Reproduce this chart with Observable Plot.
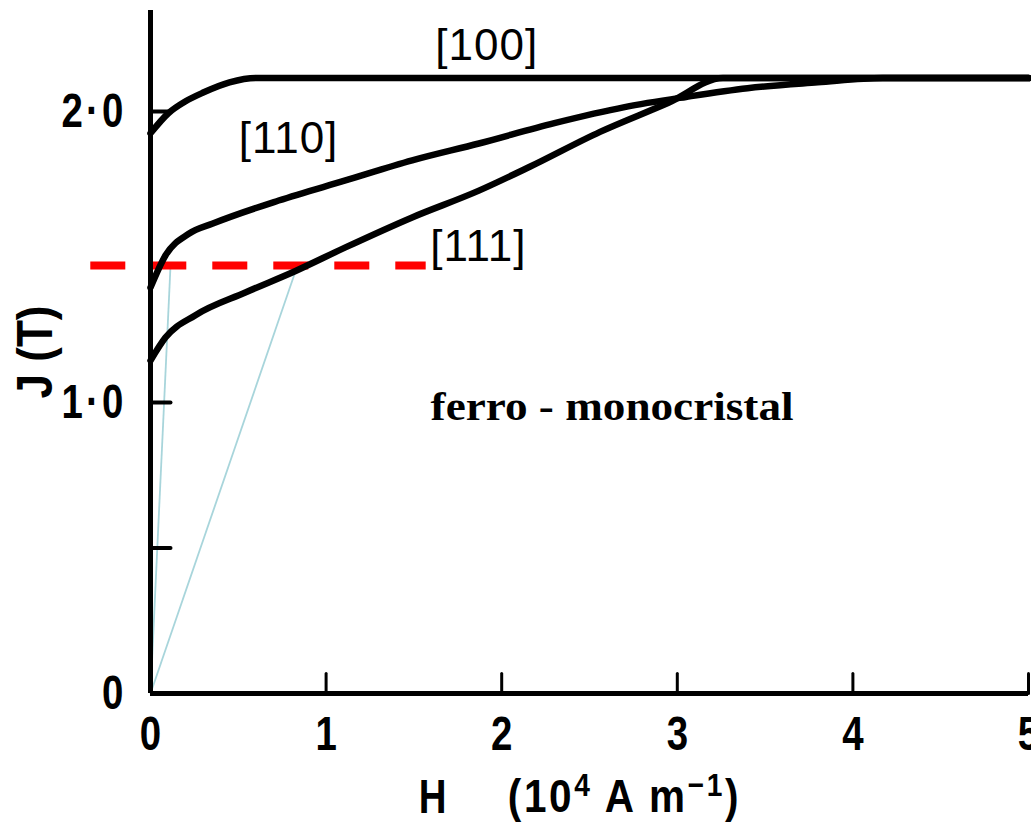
<!DOCTYPE html>
<html>
<head>
<meta charset="utf-8">
<script src="https://cdn.jsdelivr.net/npm/d3@7"></script>
<script src="https://cdn.jsdelivr.net/npm/@observablehq/plot@0.6"></script>
<style>
  html, body { margin: 0; padding: 0; background: #fff; }
  #chart svg { display: block; }
</style>
</head>
<body>
<div id="chart"></div>
<script>
// ---- data (H in 10^4 A/m, J in T) ----
const H100 = [0, 0.1, 0.2, 0.3, 0.45, 0.6, 5];
const J100 = [1.925, 1.993, 2.035, 2.065, 2.10, 2.115, 2.115];

const H110 = [0, 0.085, 0.218, 0.355, 0.73, 1.11, 1.49, 1.87, 2.3, 2.7, 3.05, 3.4, 3.8, 4.17, 5];
const J110 = [1.395, 1.505, 1.58, 1.615, 1.694, 1.763, 1.832, 1.89, 1.96, 2.015, 2.05, 2.08, 2.10, 2.115, 2.115];

const H111 = [0, 0.085, 0.256, 0.54, 0.826, 1.11, 1.49, 1.87, 2.16, 2.56, 2.95, 3.26, 5];
const J111 = [1.144, 1.223, 1.300, 1.378, 1.452, 1.533, 1.636, 1.728, 1.81, 1.93, 2.03, 2.115, 2.115];

const curveNames = ["[100]", "[110]", "[111]"];
const labelH = [1.915, 0.786, 1.867];
const labelJ = [2.227, 1.907, 1.533];

const refJ = 1.471;              // red dashed level
const refH = [-0.34, 1.57];      // extent of red dashed line
const chordH = [0.114, 0.837];   // light-blue chords from origin to the red level

const xTicks = [0, 1, 2, 3, 4, 5];
const yTickMarks = [0.5, 1, 2];
const yTickLabels = [0, 1, 2];

const xTitleVar = "H";
const xTitleUnit = "(10⁴ A m⁻¹)";
const xTitleParts = [["(10", 0], ["4", 1], [" A m", 0], ["−1", 1], [")", 0]];
const yTitle = "J (T)";
const noteText = "ferro - monocristal";
const noteH = 1.595, noteJ = 0.983;

// ---- build tables ----
const rows = [
  ...H100.map((h, i) => ({dir: "[100]", H: h, J: J100[i]})),
  ...H110.map((h, i) => ({dir: "[110]", H: h, J: J110[i]})),
  ...H111.map((h, i) => ({dir: "[111]", H: h, J: J111[i]}))
];
const labels = curveNames.map((n, i) => ({n, H: labelH[i], J: labelJ[i]}));

const tickShape = {
  draw(context, l) { context.moveTo(0, 0); context.lineTo(0, -l); }
};
const sans = "'Liberation Sans', Arial, sans-serif";
const serif = "'Liberation Serif', 'Times New Roman', serif";

const chart = Plot.plot({
  width: 1031,
  height: 825,
  marginTop: 10,
  marginRight: 3,
  marginBottom: 132,
  marginLeft: 150,
  style: {background: "white", overflow: "visible"},
  x: {domain: [0, 5]},
  y: {domain: [0, 2.347]},
  marks: [
    Plot.link(chordH, {x1: 0, y1: 0, x2: d => d, y2: refJ, stroke: "#a8d5db", strokeWidth: 1.8}),
    Plot.ruleY([refJ], {x1: refH[0], x2: refH[1], stroke: "#ff0000", strokeWidth: 8, strokeDasharray: "35,26"}),
    Plot.line(rows, {x: "H", y: "J", z: "dir", curve: "monotone-x", stroke: "black", strokeWidth: 6.5, strokeLinejoin: "round"}),
    Plot.ruleY([0], {stroke: "black", strokeWidth: 5}),
    Plot.ruleX([0], {stroke: "black", strokeWidth: 5}),
    Plot.vector(xTicks.filter(d => d > 0), {x: d => d, y: 0, length: 20, rotate: 0, anchor: "start", shape: tickShape, stroke: "black", strokeWidth: 3}),
    Plot.vector(yTickMarks, {x: 0, y: d => d, length: 20, rotate: 90, anchor: "start", shape: tickShape, stroke: "black", strokeWidth: 4}),
    Plot.axisX(xTicks, {tickSize: 0, tickPadding: 22, label: null, fontSize: 48, fontWeight: "bold", fontFamily: sans, tickFormat: d => String(d)}),
    Plot.axisY(yTickLabels, {tickSize: 0, tickPadding: 24, label: null, fontSize: 48, fontWeight: "bold", fontFamily: sans, tickFormat: d => d === 0 ? "0" : d.toFixed(1).replace(".", "·")}),
    Plot.text([yTitle], {frameAnchor: "left", textAnchor: "middle", lineAnchor: "middle", dx: -115, rotate: -90, fontSize: 50, fontWeight: "bold", fontFamily: sans}),
    Plot.text([xTitleVar], {frameAnchor: "bottom", textAnchor: "middle", lineAnchor: "middle", dx: -157, dy: 104, fontSize: 48, fontWeight: "bold", fontFamily: sans}),
    Plot.text([xTitleUnit], {frameAnchor: "bottom", textAnchor: "middle", lineAnchor: "middle", dx: 35, dy: 104, fontSize: 46, fontWeight: "bold", fontFamily: sans}),
    Plot.text(labels, {x: "H", y: "J", text: "n", fontSize: 44, fontFamily: sans}),
    Plot.text([noteText], {x: noteH, y: noteJ, textAnchor: "start", fontSize: 40, fontWeight: "bold", fontFamily: serif})
  ]
});
document.getElementById("chart").appendChild(chart);

// ---- typographic tweaks: condensed / widened glyphs, spacing, superscripts ----
function squeeze(el, sx, spacing) {
  const t = el.getAttribute("transform");
  if (t) {
    el.setAttribute("transform", t + ` scale(${sx},1)`);
  } else {
    const x = +(el.getAttribute("x") || 0), y = +(el.getAttribute("y") || 0);
    el.removeAttribute("x"); el.removeAttribute("y");
    el.setAttribute("transform", `translate(${x},${y}) scale(${sx},1)`);
  }
  if (spacing) el.style.letterSpacing = spacing + "px";
}
function superscripts(el, parts) {
  const y0 = el.getAttribute("y");
  const dyBase = el.getAttribute("dy");
  while (el.firstChild) el.removeChild(el.firstChild);
  let raised = false;
  for (const [txt, sup] of parts) {
    const ts = document.createElementNS("http://www.w3.org/2000/svg", "tspan");
    ts.textContent = txt;
    if (sup && !raised) { ts.setAttribute("dy", "-16"); raised = true; }
    else if (!sup && raised) { ts.setAttribute("dy", "16"); raised = false; }
    if (sup) ts.setAttribute("font-size", "32");
    el.appendChild(ts);
  }
}
const svg = d3.select(chart);
svg.selectAll('g[aria-label="x-axis tick label"] text').each(function() { squeeze(this, 0.8, 0); });
svg.selectAll('g[aria-label="y-axis tick label"] text').each(function() { squeeze(this, 0.8, 4); });
svg.selectAll("text").each(function() {
  const s = this.textContent;
  if (s === yTitle) squeeze(this, 0.88, 0);
  else if (s === xTitleVar) squeeze(this, 0.8, 0);
  else if (s === xTitleUnit) { superscripts(this, xTitleParts); squeeze(this, 0.88, 3); }
  else if (s === noteText) squeeze(this, 1.13, 0);
  else if (curveNames.includes(s)) squeeze(this, 1, 1);
});
</script>
</body>
</html>
